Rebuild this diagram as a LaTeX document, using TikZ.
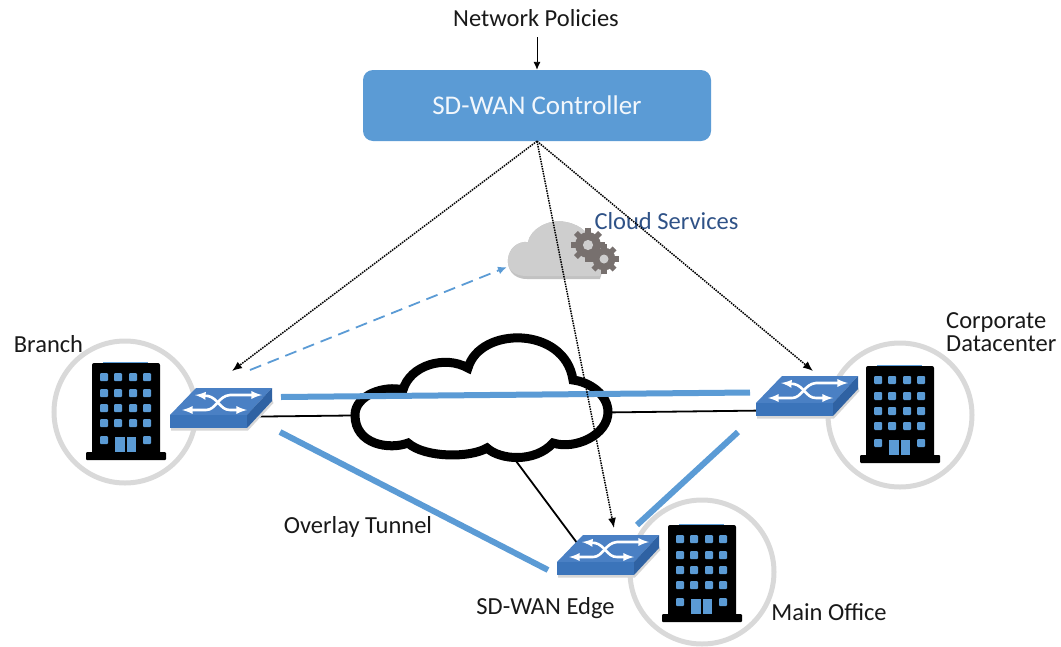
\documentclass[tikz,border=0pt]{standalone}
\usepackage{fontspec}
\usetikzlibrary{arrows.meta}
\setmainfont{Carlito}
\definecolor{sdblue}{HTML}{5B9BD5}
\definecolor{swtop}{HTML}{4A80C4}
\definecolor{swfront}{HTML}{3B74BA}
\definecolor{swside}{HTML}{2F62A3}
\definecolor{ringgray}{HTML}{D9D9D9}
\definecolor{cloudgray}{HTML}{CECECE}
\definecolor{gearcol}{HTML}{77706E}
\definecolor{svctext}{HTML}{2F5287}
\newcommand{\labelfont}{\fontsize{24.5}{23}\selectfont}
\tikzset{
  lbl/.style={inner sep=0pt,text=black!90,font=\labelfont},
  ring/.style={draw=ringgray,line width=5},
  tunnel/.style={draw=sdblue,line width=6},
  wire/.style={draw=black,line width=1.8},
  ctlarrow/.style={-{Latex[length=10pt,width=8pt]},draw=black,densely dotted,line width=1.5},
}
% building, #1 = top left corner of the body
\newcommand{\officeBldg}[1]{
\begin{scope}[shift={(#1)}]
\fill[sdblue] (11,-1.5) rectangle (56,2);
\fill[black,rounded corners=2] (0,0) rectangle (68,92);
\fill[black,rounded corners=1] (-6,89) rectangle (74,97);
\foreach \wx in {12,26,41,55} {
  \foreach \wy in {14,30,45,60} {
    \fill[sdblue,rounded corners=1] (\wx-4,\wy-4) rectangle (\wx+4,\wy+4);
  }
}
\fill[sdblue,rounded corners=1] (8,73) rectangle (16,81);
\fill[sdblue,rounded corners=1] (51,73) rectangle (59,81);
\fill[sdblue] (23,74) rectangle (32.5,89);
\fill[sdblue] (35,74) rectangle (44,89);
\end{scope}
}
% switch, #1 = left corner of the top face
\newcommand{\netSwitch}[1]{
\begin{scope}[shift={(#1)}]
\fill[black!16] (1,10) -- (1,15.5) -- (78,15.5) -- (103.5,-12) -- (102,-16) -- cycle;
\fill[swtop] (0,0) -- (26,-27) -- (102,-27) -- (77,0) -- cycle;
\fill[swfront] (0,0) -- (77,0) -- (77,13) -- (0,13) -- cycle;
\fill[swside] (77,0) -- (102,-27) -- (102,-14) -- (77,13) -- cycle;
\draw[white,line width=2.6,<->,>=latex] (25,-20) -- (38,-19) .. controls (48,-17) and (50,-5) .. (60,-5) -- (77,-5);
\draw[white,line width=2.6,<->,>=latex] (12,-5) -- (36,-5) .. controls (46,-5) and (48,-19) .. (60,-20) -- (92,-20);
\end{scope}
}
% one gear, #1 = centre, #2 = radius
\newcommand{\gearWheel}[2]{
\begin{scope}[shift={(#1)}]
\foreach \ang in {0,45,...,315} {
  \draw[gearcol,line width=5.5] (0,0) -- (\ang:#2);
}
\fill[gearcol] (0,0) circle ({#2*0.76});
\fill[cloudgray] (0,0) circle ({#2*0.3});
\end{scope}
}
\begin{document}
\begin{tikzpicture}[x=1pt,y=-1pt]
\useasboundingbox (0,0) rectangle (1061,646);

\node[lbl] (policies) at (536,18) {Network Policies};
\node[fill=sdblue,draw=none,rounded corners=10,minimum width=348,minimum height=71,inner sep=0pt,
      text=white!92!sdblue,font=\fontsize{27}{30}\selectfont] (ctrl) at (537,105.5) {SD-WAN Controller};

\node[lbl] (branch) at (48.5,344) {Branch};
\node[lbl,align=left,anchor=west] (corp) at (946,332) {Corporate\\Datacenter};
\node[lbl] (overlay) at (358,527) {Overlay Tunnel};
\node[lbl] (edge) at (545.5,608) {SD-WAN Edge};
\node[lbl] (mainoff) at (829,612) {Main Office};
\node[lbl,text=svctext] (services) at (666.5,221) {Cloud Services};

% sites
\node[ring,circle,minimum size=142,inner sep=0pt] (site-branch) at (125,412) {};
\node[ring,circle,minimum size=144,inner sep=0pt] (site-corp) at (900,415) {};
\node[ring,circle,minimum size=144,inner sep=0pt] (site-main) at (702,572) {};
\officeBldg{92,363}
\officeBldg{866,366}
\officeBldg{668,525}

% service cloud
\fill[cloudgray!85!gray] (527,279) .. controls (512,279) and (507,268) .. (508,259)
  .. controls (509,248) and (518,241) .. (528,242)
  .. controls (530,230) and (548,218) .. (566,222)
  .. controls (582,225) and (590,235) .. (592,243)
  .. controls (602,245) and (606,262) .. (600,279) -- cycle;
\fill[cloudgray] (527,276) .. controls (512,276) and (507,268) .. (508,259)
  .. controls (509,248) and (518,241) .. (528,242)
  .. controls (530,230) and (548,218) .. (566,222)
  .. controls (582,225) and (590,235) .. (592,243)
  .. controls (602,245) and (606,262) .. (600,276) -- cycle;
\gearWheel{588,245}{17}
\gearWheel{604,259}{15}
\coordinate (cloud-svc) at (507,267);

\coordinate (net) at (481,414);
\coordinate (sw-branch) at (221,417);
\coordinate (sw-corp) at (806,410);
\coordinate (sw-main) at (586,555);

% underlay
\path (sw-branch) edge[wire] (net);
\path (sw-corp) edge[wire] (net);
\path (sw-main) edge[wire] (net);

\draw[fill=white,draw=black,line width=9] (403,390) .. controls (410,365) and (445,355) .. (468,368)
  .. controls (480,326) and (565,326) .. (573,380)
  .. controls (590,382) and (608,395) .. (608,412)
  .. controls (608,435) and (575,450) .. (553,443)
  .. controls (535,463) and (500,460) .. (487,448)
  .. controls (470,458) and (425,458) .. (408,443)
  .. controls (390,450) and (355,445) .. (355,415)
  .. controls (355,395) and (385,385) .. (403,390) -- cycle;

\netSwitch{170,415}
\netSwitch{756,403}
\netSwitch{557,562}

% overlay
\coordinate (ov-b1) at (281,397);
\coordinate (ov-c1) at (750,392.5);
\coordinate (ov-b2) at (280,432);
\coordinate (ov-m1) at (548,570);
\coordinate (ov-m2) at (637,525);
\coordinate (ov-c2) at (738,432);
\path (ov-b1) edge[tunnel] (ov-c1);
\path (ov-b2) edge[tunnel] (ov-m1);
\path (ov-m2) edge[tunnel] (ov-c2);

% control
\coordinate (pol-out) at (537,37);
\coordinate (in-branch) at (232,371);
\coordinate (in-corp) at (813,371);
\coordinate (in-main) at (614,528);
\coordinate (out-svc) at (250,370);
\path (pol-out) edge[-{Latex[length=8pt,width=7pt]},draw=black,line width=0.9] (ctrl.north);
\path (ctrl.south) edge[ctlarrow] (in-branch);
\path (ctrl.south) edge[ctlarrow] (in-corp);
\path (ctrl.south) edge[ctlarrow] (in-main);
\path (out-svc) edge[-{Latex[length=9pt,width=8pt]},draw=sdblue,dash pattern=on 12 off 7,line width=1.8] (cloud-svc);
\end{tikzpicture}
\end{document}
